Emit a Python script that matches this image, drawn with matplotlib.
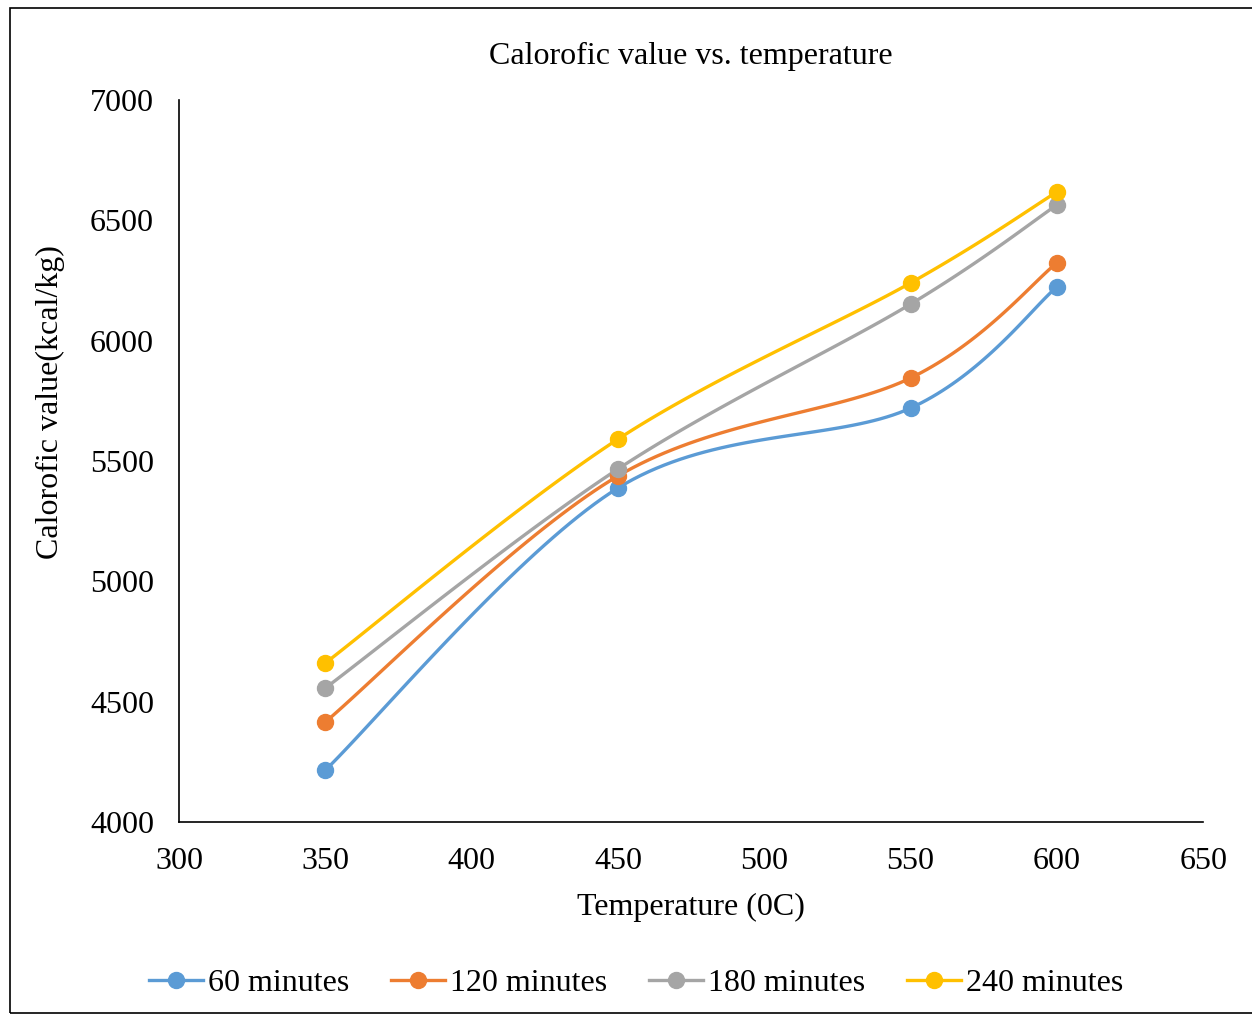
import numpy as np
import matplotlib.pyplot as plt
from matplotlib.patches import Rectangle

plt.rcParams['font.family'] = ['Liberation Serif', 'DejaVu Serif']

temps = [350, 450, 550, 600]
min60 = [4216, 5388, 5720, 6223]
min120 = [4416, 5438, 5845, 6323]
min180 = [4557, 5467, 6152, 6564]
min240 = [4661, 5591, 6240, 6618]

series = [("60 minutes", min60, "#5B9BD5"),
          ("120 minutes", min120, "#ED7D31"),
          ("180 minutes", min180, "#A5A5A5"),
          ("240 minutes", min240, "#FFC000")]


def smooth(x, y, n=40):
    # excel-like smoothed line (cardinal spline through the points)
    x = np.asarray(x, float)
    y = np.asarray(y, float)
    px = np.concatenate([[x[0]], x, [x[-1]]])
    py = np.concatenate([[y[0]], y, [y[-1]]])
    xs, ys = [], []
    t = np.linspace(0, 1, n)
    for i in range(1, len(x)):
        p0 = np.array([px[i], py[i]])
        p3 = np.array([px[i + 1], py[i + 1]])
        c1 = p0 + (p3 - np.array([px[i - 1], py[i - 1]])) / 6
        c2 = p3 - (np.array([px[i + 2], py[i + 2]]) - p0) / 6
        b = ((1 - t) ** 3)[:, None] * p0 + (3 * (1 - t) ** 2 * t)[:, None] * c1 \
            + (3 * (1 - t) * t ** 2)[:, None] * c2 + (t ** 3)[:, None] * p3
        xs.extend(b[:, 0])
        ys.extend(b[:, 1])
    return xs, ys


fig = plt.figure(figsize=(12.52, 10.15), dpi=100)
ax = fig.add_axes([0.143, 0.190, 0.818, 0.7115])

for name, vals, col in series:
    sx, sy = smooth(temps, vals)
    ax.plot(sx, sy, color=col, lw=2.4, zorder=2)
    ax.plot(temps, vals, 'o', color=col, ms=11.5, zorder=3)
    ax.plot([], [], '-o', color=col, lw=2.4, ms=11.5, label=name)

ax.set_xlim(300, 650)
ax.set_ylim(4000, 7000)
ax.set_xticks(range(300, 651, 50))
ax.set_yticks(range(4000, 7001, 500))
ax.tick_params(length=0, labelsize=23)
ax.tick_params(axis='y', pad=18)
ax.tick_params(axis='x', pad=18)
ax.spines['top'].set_visible(False)
ax.spines['right'].set_visible(False)
ax.spines['left'].set_linewidth(1.2)
ax.spines['bottom'].set_linewidth(1.2)

ax.set_title("Calorofic value vs. temperature", fontsize=23, pad=26)
ax.set_xlabel("Temperature (0C)", fontsize=23, labelpad=12)
ax.set_ylabel("Calorofic value(kcal/kg)", fontsize=23)
ax.yaxis.set_label_coords(-0.111, 0.582)

fig.legend(loc='center', bbox_to_anchor=(0.508, 0.031), ncol=4, frameon=False,
           fontsize=23, handlelength=1.7, handletextpad=0.15, columnspacing=1.3)

fig.add_artist(Rectangle((0.008, 0.002), 1.2, 0.99, transform=fig.transFigure,
                         fill=False, edgecolor='black', lw=1.2))

fig.savefig("out.png", dpi=100)
